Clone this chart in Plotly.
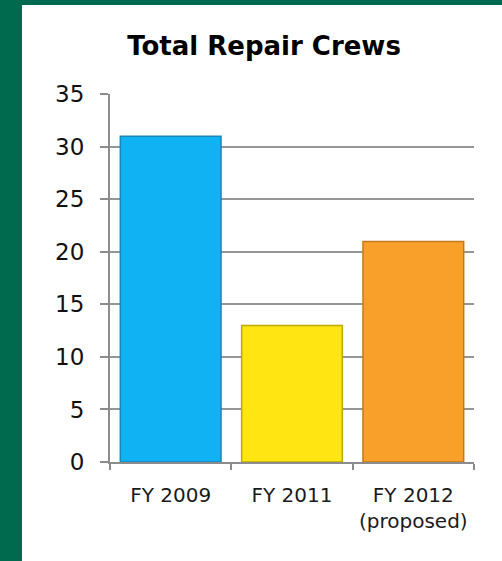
import plotly.graph_objects as go

categories = ["FY 2009", "FY 2011", "FY 2012<br>(proposed)"]
values = [31, 13, 21]
fill_colors = ["#10B2F4", "#FFE512", "#F9A02A"]
line_colors = ["#1A86B8", "#BFA800", "#C37A1A"]
y_ticks = [0, 5, 10, 15, 20, 25, 30, 35]

W, H = 502, 561
ml, mr, mt, mb = 110, 28, 94, 99
pw, ph = W - ml - mr, H - mt - mb

def px_x(x):
    return (x - ml) / pw

def px_y(y):
    return (H - mb - y) / ph

fig = go.Figure(go.Bar(
    x=categories, y=values, width=0.83,
    marker=dict(color=fill_colors, line=dict(color=line_colors, width=1.5)),
))

fig.update_layout(
    width=W, height=H,
    margin=dict(l=ml, r=mr, t=mt, b=mb),
    paper_bgcolor="white", plot_bgcolor="white",
    showlegend=False,
    title=dict(text="<b>Total Repair Crews</b>", x=264 / W, xanchor="center",
               y=1 - 46 / H, yanchor="middle",
               font=dict(family="DejaVu Sans", size=26, color="black")),
    font=dict(family="DejaVu Sans", color="#1A1A1A"),
    xaxis=dict(type="category", showgrid=False, showline=True, linecolor="#8C8C8C", linewidth=2,
               ticks="outside", tickson="boundaries", ticklen=6, tickcolor="#8C8C8C", tickwidth=2,
               ticklabelstandoff=14,
               tickfont=dict(size=20, color="#1A1A1A")),
    yaxis=dict(range=[0, 35.03], tickvals=y_ticks, showgrid=True, gridcolor="#959595", gridwidth=2,
               showline=True, linecolor="#8C8C8C", linewidth=2, zeroline=False,
               ticks="outside", ticklen=8, tickcolor="#8C8C8C", tickwidth=2,
               ticklabelstandoff=11,
               tickfont=dict(size=23, color="#111111")),
    shapes=[
        dict(type="rect", xref="paper", yref="paper", x0=px_x(-2), x1=px_x(22), y0=px_y(H + 2), y1=px_y(-2),
             fillcolor="#006A4E", line=dict(width=0), layer="above"),
        dict(type="rect", xref="paper", yref="paper", x0=px_x(-2), x1=px_x(W + 2), y0=px_y(5), y1=px_y(-2),
             fillcolor="#006A4E", line=dict(width=0), layer="above"),
    ],
)

fig.write_html("out.html", config={"displayModeBar": False},
               post_script="document.body.style.margin='0';document.body.style.overflow='hidden';")
